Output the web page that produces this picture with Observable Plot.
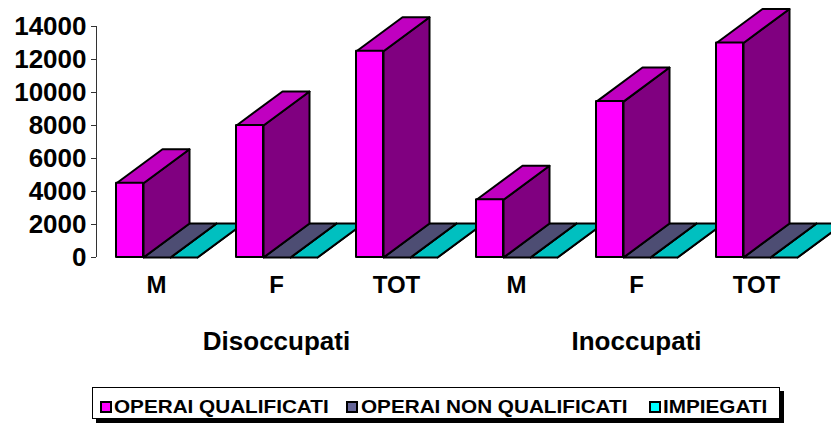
<!DOCTYPE html>
<html><head><meta charset="utf-8">
<script src="https://cdn.jsdelivr.net/npm/d3@7"></script>
<script src="https://cdn.jsdelivr.net/npm/@observablehq/plot@0.6"></script>
<style>
body{margin:0;background:#fff;font-family:"Liberation Sans",Arial,sans-serif;}
#wrap{position:relative;width:831px;height:425px;overflow:hidden;background:#fff;}
#chart svg{display:block;}
#legend{position:absolute;left:92px;top:387px;width:686px;height:30px;border:1px solid #000;box-shadow:4px 4px 0 #000;background:#fff;}
.sw{position:absolute;top:13px;width:8px;height:8px;border:2px solid #000;}
.lt{position:absolute;top:10px;font-size:18px;line-height:18px;font-weight:bold;white-space:nowrap;transform:scaleX(1.15);transform-origin:left center;color:#000;}
</style></head><body><div id="wrap"><div id="chart"></div><div id="legend"></div></div>
<script>
const groups = ["Disoccupati", "Inoccupati"];
const categories = ["M", "F", "TOT"];
const series = ["OPERAI QUALIFICATI", "OPERAI NON QUALIFICATI", "IMPIEGATI"];
const operaiQualificati = [4500, 8000, 12500, 3500, 9450, 13000];
const operaiNonQualificati = [0, 0, 0, 0, 0, 0];
const impiegati = [0, 0, 0, 0, 0, 0];
const yTicks = [0, 2000, 4000, 6000, 8000, 10000, 12000, 14000];

const legendColors = ["#FF00FF", "#666699", "#00FFFF"];
const frontColors = ["#FF00FF", "#666699", "#00FFFF"];
const topColors = ["#C000C0", "#4D4D73", "#00C0C0"];
const sideColors = ["#800080", "#333366", "#008080"];

// geometry (in x slot units / y data units)
const PAD = 0.1667, BW = 0.225, DX = 0.3833, DY = 2061;

const values = [operaiQualificati, operaiNonQualificati, impiegati];
const slots = [];
groups.forEach((g, gi) => categories.forEach((c, ci) => slots.push({g, c, i: gi * categories.length + ci})));

const fronts = [], tops = [], sides = [];
series.forEach((s, k) => {
  const F = [], T = [], S = [];
  slots.forEach(sl => {
    const v = values[k][sl.i];
    const x1 = sl.i + PAD + k * BW, x2 = x1 + BW;
    F.push({x1, x2, y1: 0, y2: v});
    const tid = `t${k}-${sl.i}`, sid = `s${k}-${sl.i}`;
    T.push({id: tid, x: x1, y: v}, {id: tid, x: x2, y: v}, {id: tid, x: x2 + DX, y: v + DY}, {id: tid, x: x1 + DX, y: v + DY});
    S.push({id: sid, x: x2, y: 0}, {id: sid, x: x2, y: v}, {id: sid, x: x2 + DX, y: v + DY}, {id: sid, x: x2 + DX, y: DY});
  });
  fronts.push(F); tops.push(T); sides.push(S);
});

const catLabels = slots.map(sl => ({x: sl.i + 0.5, y: 0, label: sl.c}));
const groupLabels = groups.map((g, gi) => ({x: gi * categories.length + categories.length / 2, y: 0, label: g}));

const marks = [];
for (let k = series.length - 1; k >= 0; k--) {
  marks.push(
    Plot.line(sides[k], {x: "x", y: "y", z: "id", curve: "linear-closed", fill: sideColors[k], stroke: "#000", strokeWidth: 2, strokeLinejoin: "round"}),
    Plot.line(tops[k], {x: "x", y: "y", z: "id", curve: "linear-closed", fill: topColors[k], stroke: "#000", strokeWidth: 2, strokeLinejoin: "round"}),
    Plot.rect(fronts[k], {x1: "x1", x2: "x2", y1: "y1", y2: "y2", fill: frontColors[k], stroke: "#000", strokeWidth: 2, strokeLinejoin: "round"})
  );
}

const chart = Plot.plot({
  width: 831,
  height: 380,
  marginLeft: 96,
  marginRight: 15,
  marginTop: 26,
  marginBottom: 123,
  style: {fontFamily: "'Liberation Sans', Arial, sans-serif", fontWeight: "bold", color: "#000", background: "#fff", overflow: "visible"},
  x: {domain: [0, slots.length], axis: null},
  y: {domain: [0, 14000], axis: null},
  marks: [
    Plot.ruleX([0], {y1: 0, y2: 14000, stroke: "#333", strokeWidth: 1}),
    Plot.axisY(yTicks, {tickSize: 5, tickPadding: 5, tickFormat: d3.format("d"), fontSize: 26, fontWeight: "bold", label: null, stroke: "#333", fill: "#000"}),
    ...marks,
    Plot.text(catLabels, {x: "x", y: "y", text: "label", dy: 28, fontSize: 24, fontWeight: "bold", fill: "#000", lineAnchor: "middle"}),
    Plot.text(groupLabels, {x: "x", y: "y", text: "label", dy: 84, fontSize: 26, fontWeight: "bold", fill: "#000", lineAnchor: "middle"})
  ]
});
document.getElementById("chart").appendChild(chart);

// legend
const legend = document.getElementById("legend");
const legendPos = [[7, 21], [253, 268], [556, 570]];
series.forEach((s, k) => {
  const sw = document.createElement("div");
  sw.className = "sw";
  sw.style.left = legendPos[k][0] + "px";
  sw.style.background = legendColors[k];
  legend.appendChild(sw);
  const t = document.createElement("div");
  t.className = "lt";
  t.style.left = legendPos[k][1] + "px";
  t.textContent = s;
  legend.appendChild(t);
});
</script></body></html>
